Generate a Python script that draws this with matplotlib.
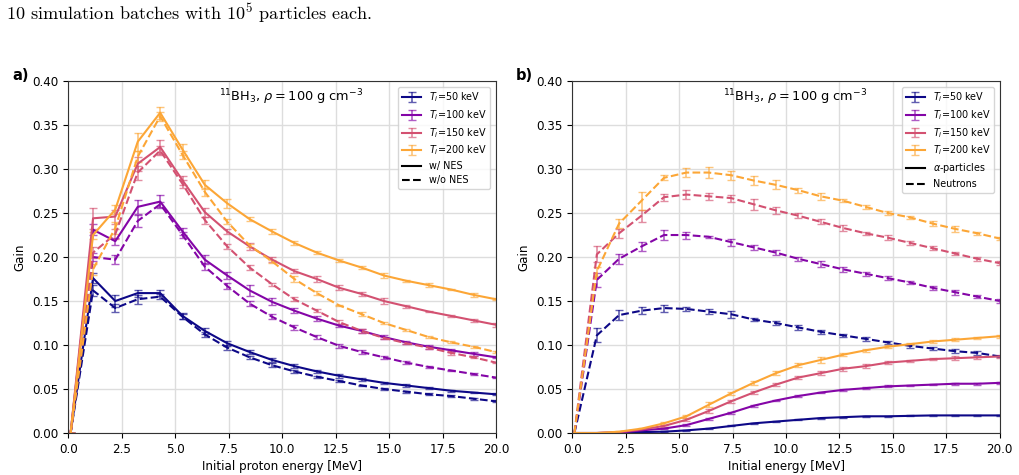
import matplotlib.pyplot as plt
from matplotlib.lines import Line2D
import numpy as np

# initial energy grid [MeV]
energy = [0.1, 1.15, 2.19, 3.24, 4.29, 5.34, 6.38, 7.43, 8.48, 9.53,
          10.57, 11.62, 12.67, 13.72, 14.76, 15.81, 16.86, 17.91, 18.95, 20.0]

temps = [50, 100, 150, 200]

# panel a) gain with / without nuclear elastic scattering
a_nes = {
    50: [0, 0.176, 0.150, 0.159, 0.159, 0.133, 0.116, 0.102, 0.092, 0.083,
         0.076, 0.070, 0.065, 0.061, 0.057, 0.054, 0.051, 0.048, 0.046, 0.044],
    100: [0, 0.231, 0.218, 0.257, 0.263, 0.229, 0.197, 0.179, 0.162, 0.149,
          0.139, 0.130, 0.122, 0.116, 0.109, 0.103, 0.098, 0.094, 0.090, 0.086],
    150: [0, 0.244, 0.246, 0.306, 0.325, 0.287, 0.251, 0.229, 0.212, 0.197,
          0.184, 0.175, 0.165, 0.158, 0.150, 0.144, 0.138, 0.133, 0.128, 0.123],
    200: [0, 0.225, 0.254, 0.331, 0.364, 0.322, 0.282, 0.261, 0.243, 0.229,
          0.216, 0.205, 0.196, 0.188, 0.179, 0.173, 0.168, 0.163, 0.157, 0.152],
}
a_nes_err = {
    50: [0, 0.006, 0.007, 0.004, 0.003, 0.003, 0.003, 0.003, 0.002, 0.002,
         0.002, 0.0015, 0.002, 0.0015, 0.0015, 0.0015, 0.001, 0.001, 0.001, 0.001],
    100: [0, 0.006, 0.004, 0.008, 0.007, 0.004, 0.005, 0.004, 0.006, 0.004,
          0.003, 0.003, 0.002, 0.002, 0.002, 0.002, 0.002, 0.002, 0.002, 0.001],
    150: [0, 0.012, 0.008, 0.008, 0.008, 0.005, 0.005, 0.003, 0.004, 0.003,
          0.002, 0.003, 0.003, 0.002, 0.003, 0.002, 0.001, 0.001, 0.002, 0.002],
    200: [0, 0.004, 0.005, 0.010, 0.007, 0.006, 0.005, 0.005, 0.002, 0.003,
          0.002, 0.002, 0.002, 0.002, 0.003, 0.001, 0.002, 0.001, 0.002, 0.001],
}
a_no_nes = {
    50: [0, 0.162, 0.142, 0.152, 0.155, 0.132, 0.112, 0.097, 0.086, 0.077,
         0.070, 0.064, 0.059, 0.054, 0.050, 0.047, 0.044, 0.042, 0.039, 0.036],
    100: [0, 0.200, 0.197, 0.241, 0.260, 0.225, 0.189, 0.167, 0.147, 0.132,
          0.120, 0.109, 0.099, 0.092, 0.086, 0.080, 0.075, 0.071, 0.067, 0.063],
    150: [0, 0.205, 0.226, 0.296, 0.321, 0.283, 0.242, 0.212, 0.188, 0.169,
          0.152, 0.139, 0.126, 0.116, 0.108, 0.102, 0.097, 0.091, 0.086, 0.080],
    200: [0, 0.186, 0.233, 0.314, 0.360, 0.316, 0.274, 0.240, 0.213, 0.195,
          0.175, 0.159, 0.145, 0.135, 0.125, 0.117, 0.109, 0.103, 0.098, 0.092],
}
a_no_nes_err = {
    50: [0, 0.006, 0.005, 0.005, 0.003, 0.003, 0.003, 0.003, 0.002, 0.002,
         0.002, 0.001, 0.001, 0.001, 0.001, 0.001, 0.001, 0.001, 0.001, 0.001],
    100: [0, 0.005, 0.005, 0.007, 0.003, 0.003, 0.004, 0.003, 0.003, 0.003,
          0.003, 0.002, 0.002, 0.002, 0.002, 0.002, 0.001, 0.001, 0.001, 0.001],
    150: [0, 0.006, 0.006, 0.008, 0.005, 0.004, 0.004, 0.003, 0.003, 0.002,
          0.002, 0.002, 0.002, 0.002, 0.001, 0.001, 0.002, 0.002, 0.001, 0.001],
    200: [0, 0.006, 0.007, 0.006, 0.005, 0.005, 0.005, 0.003, 0.002, 0.002,
          0.003, 0.002, 0.001, 0.002, 0.001, 0.001, 0.001, 0.001, 0.001, 0.001],
}

# panel b) gain split into alpha-particles and neutrons
b_alpha = {
    50: [0, 0, 0.0003, 0.001, 0.0015, 0.003, 0.005, 0.008, 0.011, 0.013,
         0.015, 0.017, 0.018, 0.019, 0.019, 0.0195, 0.020, 0.020, 0.020, 0.020],
    100: [0, 0, 0.0005, 0.003, 0.005, 0.009, 0.016, 0.023, 0.031, 0.037,
          0.042, 0.046, 0.049, 0.051, 0.053, 0.054, 0.055, 0.056, 0.056, 0.057],
    150: [0, 0, 0.001, 0.004, 0.008, 0.015, 0.025, 0.036, 0.046, 0.055,
          0.063, 0.068, 0.073, 0.076, 0.080, 0.082, 0.084, 0.085, 0.086, 0.087],
    200: [0, 0, 0.0015, 0.005, 0.011, 0.019, 0.032, 0.045, 0.057, 0.068,
          0.077, 0.083, 0.089, 0.094, 0.098, 0.101, 0.104, 0.106, 0.108, 0.110],
}
b_alpha_err = {
    50: [0, 0, 0, 0.0003, 0.0003, 0.0005, 0.0005, 0.0006, 0.0006, 0.0006,
         0.0006, 0.0006, 0.0006, 0.0006, 0.0006, 0.0006, 0.0006, 0.0006, 0.0006, 0.0006],
    100: [0, 0, 0.0003, 0.0005, 0.0008, 0.001, 0.001, 0.0012, 0.0012, 0.001,
          0.001, 0.001, 0.001, 0.001, 0.001, 0.001, 0.001, 0.001, 0.001, 0.001],
    150: [0, 0, 0.0005, 0.0008, 0.001, 0.0015, 0.002, 0.002, 0.002, 0.002,
          0.002, 0.002, 0.002, 0.002, 0.002, 0.0015, 0.0015, 0.002, 0.002, 0.0015],
    200: [0, 0, 0.0005, 0.001, 0.0015, 0.002, 0.003, 0.002, 0.002, 0.002,
          0.002, 0.003, 0.0015, 0.002, 0.0015, 0.0015, 0.0015, 0.002, 0.0015, 0.0015],
}
b_neutron = {
    50: [0, 0.111, 0.134, 0.139, 0.142, 0.141, 0.138, 0.135, 0.129, 0.125,
         0.120, 0.115, 0.111, 0.107, 0.103, 0.099, 0.096, 0.093, 0.091, 0.087],
    100: [0, 0.174, 0.198, 0.212, 0.225, 0.225, 0.223, 0.217, 0.211, 0.205,
          0.198, 0.192, 0.186, 0.181, 0.176, 0.171, 0.165, 0.160, 0.155, 0.150],
    150: [0, 0.203, 0.227, 0.247, 0.268, 0.271, 0.269, 0.267, 0.260, 0.253,
          0.247, 0.240, 0.233, 0.227, 0.222, 0.216, 0.210, 0.204, 0.198, 0.193],
    200: [0, 0.184, 0.238, 0.264, 0.290, 0.296, 0.296, 0.293, 0.287, 0.282,
          0.276, 0.269, 0.264, 0.257, 0.250, 0.245, 0.238, 0.232, 0.227, 0.221],
}
b_neutron_err = {
    50: [0, 0.008, 0.006, 0.004, 0.004, 0.002, 0.003, 0.004, 0.002, 0.002,
         0.003, 0.002, 0.002, 0.002, 0.002, 0.002, 0.002, 0.002, 0.002, 0.001],
    100: [0, 0.008, 0.006, 0.005, 0.006, 0.004, 0.001, 0.004, 0.003, 0.003,
          0.002, 0.003, 0.003, 0.002, 0.002, 0.002, 0.002, 0.003, 0.002, 0.002],
    150: [0, 0.009, 0.005, 0.007, 0.004, 0.005, 0.004, 0.004, 0.006, 0.004,
          0.003, 0.003, 0.003, 0.002, 0.003, 0.002, 0.002, 0.002, 0.002, 0.002],
    200: [0, 0.005, 0.005, 0.010, 0.003, 0.005, 0.006, 0.005, 0.005, 0.005,
          0.003, 0.004, 0.002, 0.002, 0.002, 0.002, 0.003, 0.003, 0.002, 0.002],
}

colors = plt.cm.plasma(np.linspace(0, 0.8, 4))

plt.rcParams["font.size"] = 8.6
plt.rcParams["mathtext.fontset"] = "cm"


def draw_series(ax, y, yerr, color, ls, label=None):
    cont = ax.errorbar(energy, y, yerr=yerr, color=color, linestyle=ls,
                       linewidth=1.5, capsize=3, elinewidth=1.2, label=label)
    for art in list(cont[1]) + list(cont[2]):
        art.set_alpha(0.65)
    return cont


def style_axes(ax, xlabel, extra):
    ax.set_xlim(0, 20)
    ax.set_ylim(0, 0.40)
    ax.set_yticks(np.arange(0, 0.401, 0.05))
    ax.set_xticks(np.arange(0, 20.01, 2.5))
    ax.grid(True, color="#dddddd", linewidth=1)
    ax.set_axisbelow(True)
    ax.set_xlabel(xlabel, labelpad=3)
    ax.set_ylabel("Gain")
    ax.text(0.52, 0.955, r"$^{11}$BH$_3$, $\rho = 100$ g cm$^{-3}$",
            transform=ax.transAxes, ha="center", va="center", fontsize=9.3,
            math_fontfamily="dejavusans")
    for sp in ax.spines.values():
        sp.set_color("#333333")
    handles, labels = ax.get_legend_handles_labels()
    handles += [Line2D([], [], color="black", ls="-"),
                Line2D([], [], color="black", ls="--")]
    labels += extra
    leg = ax.legend(handles, labels, loc="upper right", fontsize=6.9,
                    labelspacing=0.4, borderaxespad=0.6)
    for txt in leg.get_texts():
        txt.set_math_fontfamily("dejavusans")


fig = plt.figure(figsize=(10.19, 4.75), dpi=100)
ax_a = fig.add_axes([0.0672, 0.0884, 0.4195, 0.741])
ax_b = fig.add_axes([0.5616, 0.0884, 0.4195, 0.741])

for i, t in enumerate(temps):
    draw_series(ax_a, a_nes[t], a_nes_err[t], colors[i], "-",
                label=r"$T_i$=%d keV" % t)
    draw_series(ax_a, a_no_nes[t], a_no_nes_err[t], colors[i], "--")
    draw_series(ax_b, b_alpha[t], b_alpha_err[t], colors[i], "-",
                label=r"$T_i$=%d keV" % t)
    draw_series(ax_b, b_neutron[t], b_neutron_err[t], colors[i], "--")

style_axes(ax_a, "Initial proton energy [MeV]", ["w/ NES", "w/o NES"])
style_axes(ax_b, "Initial energy [MeV]", [r"$\alpha$-particles", "Neutrons"])

fig.text(0.012, 0.841, "a)", fontsize=10.5, fontweight="bold", va="center")
fig.text(0.506, 0.841, "b)", fontsize=10.5, fontweight="bold", va="center")

fig.text(0.006, 0.973, r"10 simulation batches with $10^5$ particles each.",
         fontsize=13.1, family="cmr10", va="center")

fig.savefig("out.png", dpi=100)
